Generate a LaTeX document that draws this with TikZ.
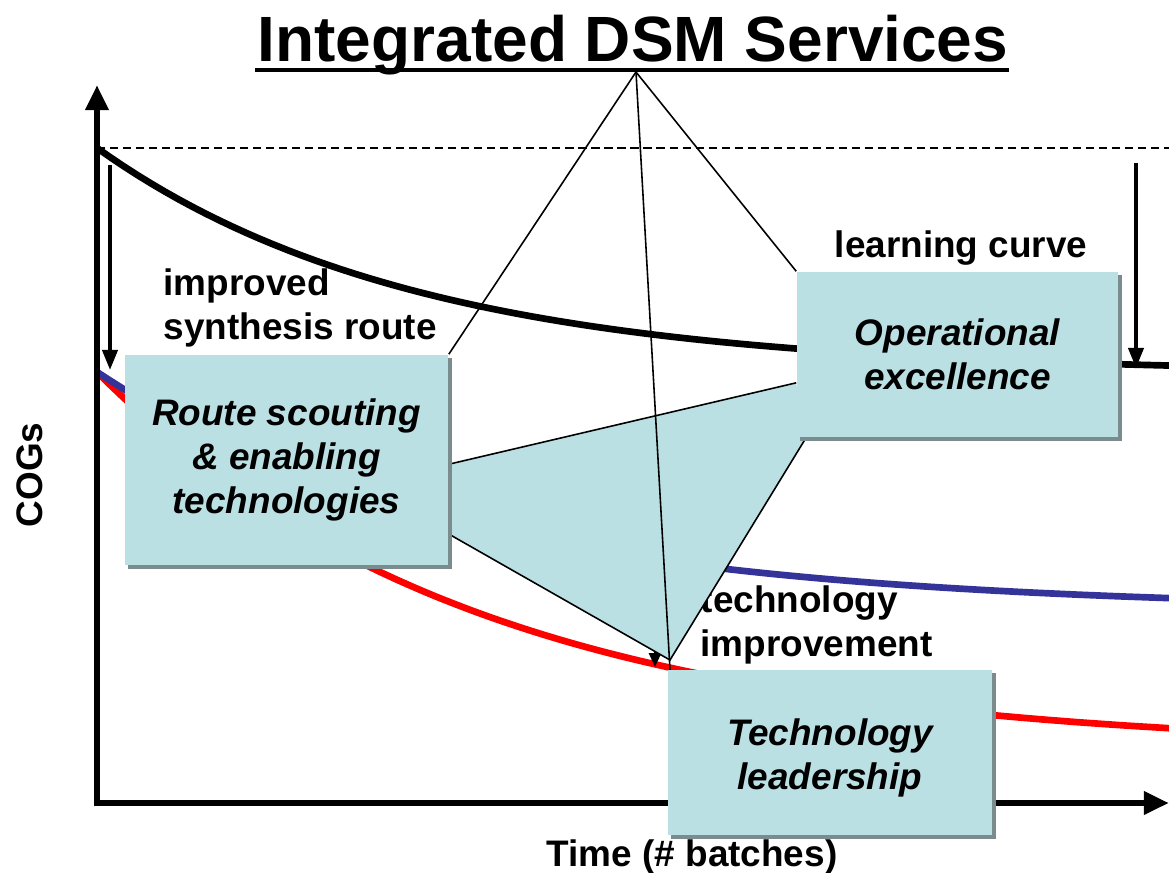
\documentclass[tikz,border=0pt]{standalone}
\usepackage{fontspec}
\setmainfont{Liberation Sans}
\usetikzlibrary{arrows.meta,calc,shadows}
\definecolor{boxfill}{HTML}{BBE0E3}
\definecolor{boxshade}{HTML}{7A8C8E}
\definecolor{cogblue}{HTML}{333399}
\definecolor{cogred}{HTML}{FF0000}
\pgfdeclarelayer{background}
\pgfsetlayers{background,main}

\begin{document}
\begin{tikzpicture}[x = 0.01cm, y = -0.01cm,
    every node/.style = {font = \fontsize{10.5}{12.4}\selectfont\bfseries},
    service/.style = {fill = boxfill, inner sep = 0pt, align = center,
        font = \fontsize{10.5}{12.5}\selectfont\bfseries\itshape,
        drop shadow = {shadow xshift = 0.035cm, shadow yshift = -0.035cm, fill = boxshade, opacity = 1}},
    curve/.style = {line width = 1.9pt},
    link/.style = {line width = 0.45pt},
    axis/.style = {line width = 1.8pt, -{Triangle[length = 0.25cm, width = 0.22cm]}},
    saving/.style = {line width = 1.1pt, -{Triangle[length = 0.2cm, width = 0.15cm]}}]
    \useasboundingbox (0,0) rectangle (1169,872);

    % the three service boxes
    \node[service, minimum width = 3.23cm, minimum height = 2.1cm] (route) at (286.5,460)
        {Route scouting\\\& enabling\\technologies};
    \node[service, minimum width = 3.21cm, minimum height = 1.65cm] (oper) at (957.5,354.5)
        {Operational\\excellence};
    \node[service, minimum width = 3.24cm, minimum height = 1.65cm, text height = 0.73cm, text depth = 0pt]
        (tech) at (830,752.5) {Technology\\leadership};

    \begin{pgfonlayer}{background}
    % cost curves
    \draw[line width = 0.6pt, dash pattern = on 2.3pt off 1.4pt] (97,148) -- (1169,148);
    \draw[curve] plot[domain = 97:1169, samples = 80] (\x, {373 - 225*exp(-(\x-97)/315)});
    \draw[curve, cogred] plot[domain = 97:1169, samples = 80] (\x, {750 - 378*exp(-(\x-97)/376)});
    \draw[curve, cogblue] plot[domain = 97:1169, samples = 80] (\x, {610 - 238*exp(-(\x-97)/358)});

    % axes
    \coordinate (O) at (97,803);
    \coordinate (ytop) at (97,85);
    \coordinate (xend) at (1169,803);
    \draw[axis] ($(O)+(0,3)$) -- (ytop);
    \draw[axis] (O) -- (xend);

    % savings
    \coordinate (s1) at (110,165);
    \coordinate (e1) at (110,370);
    \coordinate (s2) at (1136,163);
    \coordinate (e2) at (1136,368);
    \coordinate (s3) at (655,560);
    \coordinate (e3) at (655,667);
    \draw[saving] (s1) -- (e1);
    \draw[saving] (s2) -- (e2);
    \draw[line width = 0.8pt, -{Triangle[length = 0.14cm, width = 0.12cm]}] (s3) -- (e3);

    % labels
    \node[anchor = north west, align = left, inner sep = 0pt] (synth) at (163,268) {improved\\synthesis route};
    \node[anchor = base] (learn) at (961,257) {learning curve};
    \node[anchor = north west, align = left, inner sep = 0pt] (improve) at (700,585) {technology\\improvement};
    \node[rotate = 90] (cogs) at (30,475) {COGs};
    \node[anchor = base] (time) at (692,866) {Time (\# batches)};
    \node[anchor = base, inner sep = 0pt, font = \fontsize{18.2}{20}\selectfont\bfseries] (title) at (633,61)
        {Integrated DSM Services};
    \draw[line width = 1.3pt] ($(title.base west)+(-2,9)$) -- ($(title.base east)+(0,9)$);

    % shared area between the services
    \coordinate (tip) at (670,660);
    \coordinate (r1) at ($(route.north east)!0.52!(route.south east)$);
    \coordinate (r2) at ($(route.north east)!0.85!(route.south east)$);
    \coordinate (o1) at ($(oper.north west)!0.67!(oper.south west)$);
    \coordinate (o2) at ($(oper.south west)+(8,3)$);
    \fill[boxfill] (r1) -- (o1) -- (o2) -- (tip) -- (r2) -- cycle;
    \draw[link] (r1) -- (o1);
    \draw[link] (o2) -- (tip) -- (r2);

    % title to services
    \coordinate (apex) at (636,72);
    \draw[link] (apex) -- (route.north east);
    \draw[link] (apex) -- ($(tech.north west)+(3,4)$);
    \draw[link] (apex) -- (oper.north west);
    \end{pgfonlayer}
\end{tikzpicture}
\end{document}
